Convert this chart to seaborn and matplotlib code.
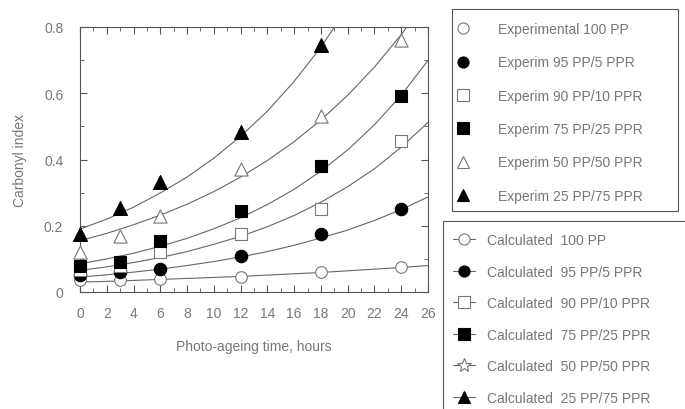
import numpy as np
import pandas as pd
import matplotlib
matplotlib.use("Agg")
import matplotlib.pyplot as plt
from matplotlib.lines import Line2D
from matplotlib.patches import Rectangle
from matplotlib.ticker import MultipleLocator
import seaborn as sns

# ---------------- data ----------------
series_names = ["100 PP", "95 PP/5 PPR", "90 PP/10 PPR", "75 PP/25 PPR",
                "50 PP/50 PPR", "25 PP/75 PPR"]
exp_labels = ["Experimental 100 PP", "Experim 95 PP/5 PPR", "Experim 90 PP/10 PPR",
              "Experim 75 PP/25 PPR", "Experim 50 PP/50 PPR", "Experim 25 PP/75 PPR"]
calc_labels = ["Calculated  100 PP", "Calculated  95 PP/5 PPR", "Calculated  90 PP/10 PPR",
               "Calculated  75 PP/25 PPR", "Calculated  50 PP/50 PPR", "Calculated  25 PP/75 PPR"]

exp_time = [0, 3, 6, 12, 18, 24]
exp_100 = [0.035, 0.035, 0.040, 0.045, 0.060, 0.075]
exp_95 = [0.050, 0.060, 0.070, 0.108, 0.175, 0.250]
exp_90 = [0.065, 0.080, 0.120, 0.175, 0.250, 0.455]
exp_75 = [0.080, 0.090, 0.155, 0.245, 0.380, 0.593]
exp_50 = [0.120, 0.170, 0.230, 0.370, 0.530, 0.760]
exp_25 = [0.175, 0.255, 0.333, 0.483, 0.745]

calc_time = [0, 2, 4, 6, 8, 10, 12, 14, 16, 18, 20, 22, 24, 26]
calc_100 = [0.030, 0.032, 0.035, 0.038, 0.041, 0.044, 0.047, 0.051, 0.055, 0.059, 0.064, 0.069, 0.074, 0.080]
calc_95 = [0.045, 0.052, 0.060, 0.069, 0.080, 0.092, 0.106, 0.122, 0.141, 0.163, 0.187, 0.216, 0.249, 0.287]
calc_90 = [0.065, 0.076, 0.089, 0.104, 0.122, 0.144, 0.168, 0.197, 0.231, 0.271, 0.318, 0.372, 0.437, 0.512]
calc_75 = [0.085, 0.100, 0.117, 0.138, 0.162, 0.191, 0.224, 0.264, 0.310, 0.365, 0.429, 0.505, 0.594, 0.699]
calc_50 = [0.155, 0.177, 0.203, 0.232, 0.265, 0.303, 0.347, 0.397, 0.454, 0.519, 0.594, 0.679, 0.777, 0.889]
calc_25 = [0.190, 0.220, 0.256, 0.299, 0.347, 0.404, 0.470, 0.546, 0.636, 0.739, 0.860]

x_ticks = [0, 2, 4, 6, 8, 10, 12, 14, 16, 18, 20, 22, 24, 26]
y_ticks = [0, 0.2, 0.4, 0.6, 0.8]
y_tick_labels = ["0", "0.2", "0.4", "0.6", "0.8"]

exp_values = [exp_100, exp_95, exp_90, exp_75, exp_50, exp_25]
calc_values = [calc_100, calc_95, calc_90, calc_75, calc_50, calc_25]

exp_df = pd.concat([pd.DataFrame({"time": exp_time[:len(v)], "ci": v, "series": s})
                    for s, v in zip(series_names, exp_values)], ignore_index=True)
calc_df = pd.concat([pd.DataFrame({"time": calc_time[:len(v)], "ci": v, "series": s})
                     for s, v in zip(series_names, calc_values)], ignore_index=True)

# ---------------- style ----------------
sns.set_style("ticks")
plt.rcParams["font.family"] = ["Liberation Sans", "DejaVu Sans"]
TXT = "#777777"
EDGE = "#555555"
LINE = "#666666"

W, H = 685, 410
fig = plt.figure(figsize=(W / 100, H / 100), dpi=100)
ax = fig.add_axes([80 / W, (H - 293) / H, 348 / W, 265 / H])

exp_markers = ["o", "o", "s", "s", "^", "^"]
exp_filled = [False, True, False, True, False, True]
exp_sizes = [70, 80, 70, 80, 90, 100]
calc_markers = ["o", "o", "s", "s", "*", "^"]

# calculated curves
for s in series_names:
    sns.lineplot(data=calc_df[calc_df.series == s], x="time", y="ci", ax=ax,
                 color=LINE, lw=0.8, legend=False, zorder=2)

# experimental points
for s, m, f, sz in zip(series_names, exp_markers, exp_filled, exp_sizes):
    sns.scatterplot(data=exp_df[exp_df.series == s], x="time", y="ci", ax=ax,
                    marker=m, s=sz, facecolor="black" if f else "white",
                    edgecolor="black" if f else "#777777", linewidth=0.8,
                    legend=False, zorder=3, clip_on=False)

ax.set_xlim(0, 26)
ax.set_ylim(0, 0.8)
ax.set_xticks(x_ticks)
ax.set_xticklabels([str(t) for t in x_ticks])
ax.set_yticks(y_ticks)
ax.set_yticklabels(y_tick_labels)
ax.xaxis.set_minor_locator(MultipleLocator(1))
ax.yaxis.set_minor_locator(MultipleLocator(0.1))
ax.tick_params(axis="both", which="both", direction="in", top=True, right=True,
               colors=EDGE, labelcolor=TXT, labelsize=10)
ax.tick_params(axis="both", which="major", length=5, width=0.8)
ax.tick_params(axis="both", which="minor", length=3, width=0.6)
ax.tick_params(axis="x", which="major", pad=10)
ax.tick_params(axis="y", which="major", pad=12)
for sp in ax.spines.values():
    sp.set_color(EDGE)
    sp.set_linewidth(0.8)
    sp.set_visible(True)

ax.set_xlabel("Photo-ageing time, hours", color=TXT, fontsize=10, labelpad=14)
ax.set_ylabel("Carbonyl index", color=TXT, fontsize=10, labelpad=12)

# ---------------- legends ----------------
exp_handles = [Line2D([], [], ls="none", marker=m, markersize=8 if m != "^" else 9,
                      markerfacecolor="black" if f else "white",
                      markeredgecolor="black" if f else "#777777", markeredgewidth=0.8)
               for m, f in zip(exp_markers, exp_filled)]
calc_handles = [Line2D([], [], color=LINE, lw=0.8, marker=m,
                       markersize=8 if m != "*" else 10,
                       markerfacecolor="black" if f else "white",
                       markeredgecolor="black" if f else "#777777", markeredgewidth=0.8)
                for m, f in zip(calc_markers, exp_filled)]

fig.add_artist(Rectangle((452 / W, 1 - 212 / H), 226 / W, 202 / H, transform=fig.transFigure,
                         fill=False, edgecolor=EDGE, lw=0.8))
fig.add_artist(Rectangle((443 / W, -0.05), 260 / W, (H - 222) / H + 0.05, transform=fig.transFigure,
                         fill=False, edgecolor=EDGE, lw=0.8, clip_on=False))

leg1 = fig.legend(exp_handles, exp_labels, loc="upper left",
                  bbox_to_anchor=(452 / W, 1 - 19 / H), borderaxespad=0, borderpad=0.3,
                  frameon=False, fontsize=10, labelcolor=TXT, handlelength=1.0,
                  handletextpad=2.0, labelspacing=1.39)
leg2 = fig.legend(calc_handles, calc_labels, loc="upper left",
                  bbox_to_anchor=(449 / W, 1 - 230 / H), borderaxespad=0, borderpad=0.3,
                  frameon=False, fontsize=10, labelcolor=TXT, handlelength=1.6,
                  handletextpad=0.8, labelspacing=1.26)

fig.savefig("out.png", dpi=100)
